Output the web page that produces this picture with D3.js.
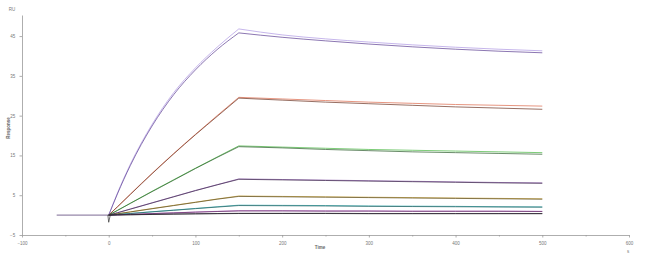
<!DOCTYPE html>
<html>
<head>
<meta charset="utf-8">
<script src="https://cdn.jsdelivr.net/npm/d3@7"></script>
<style>
  body { margin: 0; background: #fff; }
  svg { display: block; font-family: "Liberation Sans", Arial, sans-serif; }
</style>
</head>
<body>
<div id="chart"></div>
<script>
// time points (s)
var baseT = [-60, 0]
var assocT = [0, 10, 25, 50, 75, 100, 125, 150]
var dissT = [150, 200, 250, 300, 350, 400, 450, 500]
var spikeT = [-1, 0, 2]

var xTicks = [-100, 0, 100, 200, 300, 400, 500, 600]
var xMinor = [-50, 50, 150, 250, 350, 450, 550]
var yTicks = [-5, 5, 15, 25, 35, 45]

// baseline before injection (RU)
var baseV = [0, 0]
var spikeV = [0, -1.8, 0.2]

// measured curves, one per concentration (RU)
var dataColors = ["#b7a3e6", "#e07a60", "#5cbf55", "#9a70b8", "#c9a640", "#3db3b8", "#c06ad0", "#4a3a5a"]
var dataAssoc = [
  [0, 5.5, 12.8, 22.8, 30.8, 37.0, 42.2, 46.8],
  [0, 2.1, 5.3, 10.5, 15.5, 20.3, 25.0, 29.6],
  [0, 1.2, 3.0, 6.0, 8.9, 11.8, 14.6, 17.4],
  [0, 0.6, 1.55, 3.1, 4.65, 6.2, 7.65, 9.1],
  [0, 0.33, 0.82, 1.65, 2.45, 3.25, 4.05, 4.8],
  [0, 0.17, 0.42, 0.85, 1.25, 1.68, 2.1, 2.5],
  [0, 0.08, 0.2, 0.4, 0.58, 0.77, 0.95, 1.1],
  [0, 0.04, 0.1, 0.2, 0.28, 0.35, 0.4, 0.45]
]
var dataDiss = [
  [46.8, 45.3, 44.3, 43.5, 42.8, 42.2, 41.7, 41.3],
  [29.6, 29.2, 28.8, 28.4, 28.1, 27.8, 27.6, 27.4],
  [17.4, 17.1, 16.8, 16.5, 16.3, 16.1, 15.9, 15.7],
  [9.1, 8.95, 8.8, 8.65, 8.5, 8.35, 8.2, 8.1],
  [4.8, 4.7, 4.6, 4.5, 4.4, 4.3, 4.2, 4.1],
  [2.5, 2.45, 2.4, 2.3, 2.25, 2.2, 2.1, 2.05],
  [1.1, 1.1, 1.05, 1.05, 1.0, 1.0, 1.0, 0.95],
  [0.45, 0.45, 0.45, 0.4, 0.4, 0.4, 0.4, 0.4]
]

// fitted curves
var fitColors = ["#5a3c90", "#6a3020", "#2a5a2a", "#3a2448", "#5a4a20", "#1f5a5a", "#5a2a5a", "#1a1a1a"]
var fitAssoc = [
  [0, 5.3, 12.5, 22.4, 30.3, 36.5, 41.6, 45.8],
  [0, 2.05, 5.2, 10.4, 15.4, 20.2, 24.8, 29.4],
  [0, 1.15, 2.95, 5.9, 8.8, 11.7, 14.5, 17.2],
  [0, 0.58, 1.5, 3.05, 4.6, 6.15, 7.6, 9.0],
  [0, 0.32, 0.8, 1.6, 2.4, 3.2, 4.0, 4.7],
  [0, 0.16, 0.4, 0.82, 1.22, 1.62, 2.02, 2.4],
  [0, 0.08, 0.19, 0.38, 0.56, 0.74, 0.9, 1.05],
  [0, 0.04, 0.08, 0.16, 0.24, 0.3, 0.35, 0.4]
]
var fitDiss = [
  [45.8, 44.7, 43.8, 43.0, 42.3, 41.7, 41.2, 40.8],
  [29.4, 28.9, 28.4, 28.0, 27.6, 27.2, 26.9, 26.6],
  [17.2, 16.9, 16.5, 16.2, 15.9, 15.7, 15.5, 15.3],
  [9.0, 8.85, 8.7, 8.55, 8.4, 8.25, 8.1, 8.0],
  [4.7, 4.6, 4.5, 4.4, 4.3, 4.2, 4.1, 4.0],
  [2.4, 2.35, 2.3, 2.2, 2.15, 2.1, 2.05, 2.0],
  [1.05, 1.05, 1.0, 1.0, 0.95, 0.95, 0.95, 0.9],
  [0.4, 0.4, 0.4, 0.35, 0.35, 0.35, 0.35, 0.35]
]

var width = 650
var height = 257

var svg = d3.select("#chart")
  .append("svg")
  .attr("width", width)
  .attr("height", height)

var x = d3.scaleLinear().domain([-100, 600]).range([22, 629])
var y = d3.scaleLinear().domain([-5, 50.3]).range([235, 15])

// axes
var xAxis = svg.append("g")
  .attr("transform", "translate(0," + y(-5) + ")")
  .call(d3.axisBottom(x).tickValues(xTicks).tickSize(2.5).tickSizeOuter(0))
svg.append("g")
  .attr("transform", "translate(0," + y(-5) + ")")
  .call(d3.axisBottom(x).tickValues(xMinor).tickSize(1.5).tickFormat("").tickSizeOuter(0))
  .select(".domain").remove()

var yAxis = svg.append("g")
  .attr("transform", "translate(" + x(-100) + ",0)")
  .call(d3.axisLeft(y).tickValues(yTicks).tickSize(2.5).tickSizeOuter(0))

svg.selectAll(".domain").attr("stroke", "#999").attr("stroke-width", 0.8)
svg.selectAll(".tick line").attr("stroke", "#999").attr("stroke-width", 0.8)
svg.selectAll(".tick text").attr("fill", "#777").attr("font-size", 4.5)
xAxis.selectAll(".tick text").attr("dy", "0.9em")
yAxis.selectAll(".tick text").attr("dx", "-0.3em")

// axis titles
svg.append("text").attr("x", 12).attr("y", 11)
  .attr("font-size", 4.5).attr("fill", "#777").attr("text-anchor", "middle").text("RU")
svg.append("text").attr("x", 0).attr("y", 0)
  .attr("transform", "translate(10,128) rotate(-90)")
  .attr("font-size", 4.5).attr("font-weight", "bold").attr("fill", "#666")
  .attr("text-anchor", "middle").text("Response")
svg.append("text").attr("x", 320).attr("y", 249)
  .attr("font-size", 4.5).attr("font-weight", "bold").attr("fill", "#666")
  .attr("text-anchor", "middle").text("Time")
svg.append("text").attr("x", 628).attr("y", 253)
  .attr("font-size", 4.5).attr("fill", "#777").attr("text-anchor", "middle").text("s")

var line = d3.line()
  .x(d => x(d[0]))
  .y(d => y(d[1]))
  .curve(d3.curveMonotoneX)

function pts(ts, vs) { return ts.map((t, i) => [t, vs[i]]) }

var g = svg.append("g").attr("fill", "none")

// baseline
g.append("path").attr("d", line(pts(baseT, baseV)))
  .attr("stroke", "#5a4478").attr("stroke-width", 0.8)

// measured data
dataAssoc.forEach(function (vals, i) {
  g.append("path").attr("d", line(pts(assocT, vals)))
    .attr("stroke", dataColors[i]).attr("stroke-width", 0.8)
  g.append("path").attr("d", line(pts(dissT, dataDiss[i])))
    .attr("stroke", dataColors[i]).attr("stroke-width", 0.8)
})

// fits on top
fitAssoc.forEach(function (vals, i) {
  g.append("path").attr("d", line(pts(assocT, vals)))
    .attr("stroke", fitColors[i]).attr("stroke-width", 0.7)
  g.append("path").attr("d", line(pts(dissT, fitDiss[i])))
    .attr("stroke", fitColors[i]).attr("stroke-width", 0.7)
})

// injection artefact
g.append("path").attr("d", d3.line().x(d => x(d[0])).y(d => y(d[1]))(pts(spikeT, spikeV)))
  .attr("stroke", "#333").attr("stroke-width", 0.7)
</script>
</body>
</html>
